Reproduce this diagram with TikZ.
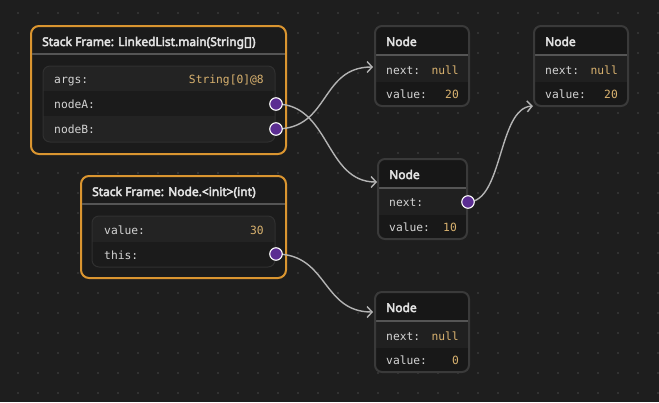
\documentclass[tikz,border=0pt]{standalone}
\usepackage{fontspec}
\setmainfont{Noto Sans}
\newfontfamily\hdrf{Noto Sans}[AutoFakeBold=3.6]
\newfontfamily\monof{DejaVu Sans Mono}
\usetikzlibrary{arrows.meta}
\definecolor{bgc}{HTML}{1E1E1E}
\definecolor{dotc}{HTML}{3A3A3A}
\definecolor{orng}{HTML}{DA9530}
\definecolor{framefill}{HTML}{1B1B1B}
\definecolor{rowA}{HTML}{232323}
\definecolor{rowB}{HTML}{1B1B1B}
\definecolor{innerb}{HTML}{303030}
\definecolor{sepc}{HTML}{555555}
\definecolor{nodeb}{HTML}{3A3A3A}
\definecolor{nhead}{HTML}{171717}
\definecolor{nrowA}{HTML}{202020}
\definecolor{nrowB}{HTML}{181818}
\definecolor{txt}{HTML}{E2E2E2}
\definecolor{lblc}{HTML}{D4D4D4}
\definecolor{valc}{HTML}{D9B26F}
\definecolor{portc}{HTML}{5B2D92}
\definecolor{connc}{HTML}{B4B4B4}
\tikzset{
  framebox/.style={draw=orng, line width=2pt, rounded corners=8pt, fill=framefill},
  nodebox/.style={draw=nodeb, line width=2pt, rounded corners=7pt},
  innerbox/.style={draw=innerb, line width=1pt, rounded corners=7pt},
  sepline/.style={draw=sepc, line width=2pt},
  hdr/.style={inner sep=0pt, anchor=base west, text=txt, font=\hdrf\fontsize{12}{14}\selectfont\bfseries},
  lbl/.style={inner sep=0pt, anchor=base west, text=lblc, font=\monof\fontsize{11.3}{13}\selectfont},
  val/.style={inner sep=0pt, anchor=base east, text=valc, font=\monof\fontsize{11.3}{13}\selectfont},
  port/.style={circle, fill=portc, draw=white, line width=1.1pt, minimum size=12.5pt, inner sep=0pt},
  conn/.style={draw=connc, line width=1.4pt, -{Straight Barb[length=5pt,width=11pt,line width=1.4pt]}},
}
\begin{document}
\begin{tikzpicture}[x=1pt,y=-1pt]
\fill[bgc] (0,0) rectangle (659,402);
\useasboundingbox (0,0) rectangle (659,402);
\foreach \i in {0,...,32} \foreach \j in {0,...,19} \fill[dotc] (18+20*\i,13+20*\j) circle (1.1pt);

% ---------- Frame 1
\draw[framebox] (31,26) rectangle (286,154);
\draw[sepline] (32,54) -- (285,54);
\node[hdr] (f1h) at (42,46) {Stack Frame: LinkedList.main(String[])};
\begin{scope}
\clip[rounded corners=7pt] (43,66) rectangle (275,142);
\fill[rowA] (43,66) rectangle (275,91);
\fill[rowB] (43,91) rectangle (275,116);
\fill[rowA] (43,116) rectangle (275,142);
\end{scope}
\draw[innerbox] (43,66) rectangle (275,142);
\node[lbl] (f1a) at (54,83.5) {args:};
\node[val] (f1av) at (264,83.5) {String[0]@8};
\node[lbl] (f1b) at (54,108.5) {nodeA:};
\node[lbl] (f1c) at (54,133.5) {nodeB:};

% ---------- Frame 2
\draw[framebox] (81,176) rectangle (286,278);
\draw[sepline] (82,204) -- (285,204);
\node[hdr] (f2h) at (92,196) {Stack Frame: Node.<init>(int)};
\begin{scope}
\clip[rounded corners=7pt] (92,216) rectangle (275,267);
\fill[rowA] (92,216) rectangle (275,242);
\fill[rowB] (92,242) rectangle (275,267);
\end{scope}
\draw[innerbox] (92,216) rectangle (275,267);
\node[lbl] (f2a) at (104,234) {value:};
\node[val] (f2av) at (264,234) {30};
\node[lbl] (f2b) at (104,259) {this:};

% ---------- Node boxes
% Node 1
\begin{scope}
\clip[rounded corners=7pt] (375,26) rectangle (469,106);
\fill[nhead] (375,26) rectangle (469,55);
\fill[nrowA] (375,55) rectangle (469,82);
\fill[nrowB] (375,82) rectangle (469,106);
\end{scope}
\draw[sepline] (376,55) -- (468,55);
\draw[nodebox] (375,26) rectangle (469,106);
\node[hdr] (n1h) at (386,46) {Node};
\node[lbl] (n1a) at (386,74) {next:};
\node[val] (n1av) at (459,74) {null};
\node[lbl] (n1b) at (386,98) {value:};
\node[val] (n1bv) at (459,98) {20};

% Node 2
\begin{scope}
\clip[rounded corners=7pt] (534,26) rectangle (628,106);
\fill[nhead] (534,26) rectangle (628,55);
\fill[nrowA] (534,55) rectangle (628,82);
\fill[nrowB] (534,82) rectangle (628,106);
\end{scope}
\draw[sepline] (535,55) -- (627,55);
\draw[nodebox] (534,26) rectangle (628,106);
\node[hdr] (n2h) at (545,46) {Node};
\node[lbl] (n2a) at (545,74) {next:};
\node[val] (n2av) at (618,74) {null};
\node[lbl] (n2b) at (545,98) {value:};
\node[val] (n2bv) at (618,98) {20};

% Node 3
\begin{scope}
\clip[rounded corners=7pt] (378,159) rectangle (467,239);
\fill[nhead] (378,159) rectangle (467,188);
\fill[nrowA] (378,188) rectangle (467,215);
\fill[nrowB] (378,215) rectangle (467,239);
\end{scope}
\draw[sepline] (379,188) -- (466,188);
\draw[nodebox] (378,159) rectangle (467,239);
\node[hdr] (n3h) at (389,179) {Node};
\node[lbl] (n3a) at (389,206) {next:};
\node[lbl] (n3b) at (389,231) {value:};
\node[val] (n3bv) at (457,231) {10};

% Node 4
\begin{scope}
\clip[rounded corners=7pt] (375,292) rectangle (469,372);
\fill[nhead] (375,292) rectangle (469,321);
\fill[nrowA] (375,321) rectangle (469,348);
\fill[nrowB] (375,348) rectangle (469,372);
\end{scope}
\draw[sepline] (376,321) -- (468,321);
\draw[nodebox] (375,292) rectangle (469,372);
\node[hdr] (n4h) at (386,312) {Node};
\node[lbl] (n4a) at (386,340) {next:};
\node[val] (n4av) at (459,340) {null};
\node[lbl] (n4b) at (386,364) {value:};
\node[val] (n4bv) at (459,364) {0};

% ---------- targets
\coordinate (t1) at (373,67);
\coordinate (t2) at (533,106);
\coordinate (t3) at (377,182);
\coordinate (t4) at (373,312);

% ---------- connectors
\coordinate (pAc) at (276,104);
\coordinate (pBc) at (276,129);
\coordinate (pCc) at (468,202);
\coordinate (pDc) at (276,254);
\draw[conn] (pAc) .. controls (330,104) and (325,182) .. (t3);
\draw[conn] (pBc) .. controls (330,129) and (320,67) .. (t1);
\draw[conn] (pCc) .. controls (503,202) and (498,108) .. (t2);
\draw[conn] (pDc) .. controls (328,254) and (322,312) .. (t4);

% ---------- ports
\node[port] (pA) at (pAc) {};
\node[port] (pB) at (pBc) {};
\node[port] (pC) at (pCc) {};
\node[port] (pD) at (pDc) {};
\end{tikzpicture}
\end{document}
